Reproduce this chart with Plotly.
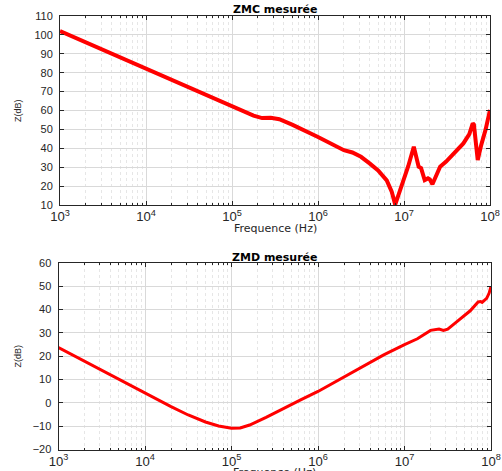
import plotly.graph_objects as go

# ZMC measured (top)
zmc_freq = [1e3, 1e4, 1e5, 1.41e5, 1.78e5, 2.24e5, 2.82e5, 3.55e5, 5.0e5, 1e6,
            1.58e6, 2.0e6, 2.51e6, 3.16e6, 3.98e6, 5.0e6, 6.3e6, 7.2e6, 7.9e6, 8.9e6,
            1e7, 1.12e7, 1.3e7, 1.38e7, 1.48e7, 1.58e7, 1.74e7, 1.9e7, 2.0e7, 2.14e7,
            2.34e7, 2.63e7, 3.09e7, 3.98e7, 4.9e7, 5.75e7, 6.3e7, 6.5e7, 7.2e7, 7.9e7,
            8.9e7, 1e8]
zmc_db = [102, 82.3, 62.5, 59.5, 57.3, 56.0, 56.2, 55.4, 52.5, 46,
          41.5, 39, 37.8, 35.5, 32, 28.3, 23, 17, 10.2, 17,
          24, 30.5, 40.8, 36, 30.3, 29.5, 23.2, 24.1, 23.5, 21,
          25, 30.3, 33, 38, 42.6, 47.5, 53.2, 52.5, 33.8, 41.7,
          50, 60.3]

# ZMD measured (bottom)
zmd_freq = [1e3, 3.16e3, 1e4, 2.0e4, 3.16e4, 5.0e4, 7.1e4, 1e5, 1.26e5, 1.62e5,
            2.51e5, 3.98e5, 6.3e5, 1e6, 2.4e6, 5.75e6, 1e7, 1.41e7, 2.0e7, 2.51e7,
            2.82e7, 3.16e7, 4.07e7, 5.75e7, 7.1e7, 7.6e7, 7.9e7, 8.9e7, 9.5e7, 1e8]
zmd_db = [23.7, 13.9, 4.1, -1.6, -5.2, -8.2, -9.9, -10.9, -10.8, -9.5,
          -6.2, -2.3, 1.3, 4.9, 12.9, 20.6, 25, 27.5, 31.1, 31.7,
          31.1, 31.6, 35, 39.5, 43.3, 43.5, 43.1, 44.8, 47, 50]

titles = ["ZMC mesurée", "ZMD mesurée"]
x_label = "Frequence (Hz)"
y_label = "Z(dB)"

W, H = 502, 471
font = "Liberation Sans, Arial, sans-serif"
wide = "DejaVu Sans, sans-serif"
txt = "#262626"
fig = go.Figure()
fig.add_trace(go.Scatter(x=zmc_freq, y=zmc_db, mode="lines",
                         line=dict(color="#ff0000", width=4), xaxis="x", yaxis="y"))
fig.add_trace(go.Scatter(x=zmd_freq, y=zmd_db, mode="lines",
                         line=dict(color="#ff0000", width=3), xaxis="x2", yaxis="y2"))

xd_top = [60 / W, 490 / W]
xd_bot = [58.5 / W, 491 / W]
top_dom = [1 - 205 / H, 1 - 16 / H]
bot_dom = [1 - 449.5 / H, 1 - 263 / H]

def xaxis(anchor, dom):
    return dict(type="log", range=[3, 8], domain=dom, anchor=anchor, automargin=False,
                dtick=1, exponentformat="power", showexponent="all",
                showgrid=True, gridcolor="#d9d9d9", gridwidth=1,
                showline=True, linecolor=txt, linewidth=1, mirror="ticks",
                ticks="inside", ticklen=4, tickcolor=txt,
                tickfont=dict(family=font, size=10.5, color=txt),
                minor=dict(dtick="D1", showgrid=True, gridcolor="#e6e6e6",
                           griddash="dot", ticks="inside", ticklen=2, tickcolor=txt),
                zeroline=False)

def yaxis(anchor, dom, rng):
    return dict(domain=dom, anchor=anchor, range=rng, dtick=10, automargin=False,
                showgrid=True, gridcolor="#d9d9d9", gridwidth=1,
                showline=True, linecolor=txt, linewidth=1, mirror="ticks",
                ticks="inside", ticklen=4, tickcolor=txt, ticklabelstandoff=4,
                tickfont=dict(family=font, size=11, color=txt),
                zeroline=False)

def ann(text, x_px, y_px, size, fam, color=txt, angle=0):
    return dict(text=text, x=x_px / W, y=1 - y_px / H, xref="paper", yref="paper",
                xanchor="center", yanchor="middle", showarrow=False, textangle=angle,
                font=dict(family=fam, size=size, color=color))

fig.update_layout(
    width=W, height=H, margin=dict(l=0, r=0, t=0, b=0),
    paper_bgcolor="white", plot_bgcolor="white", showlegend=False,
    xaxis=xaxis("y", xd_top), yaxis=yaxis("x", top_dom, [10, 110]),
    xaxis2=xaxis("y2", xd_bot), yaxis2=yaxis("x2", bot_dom, [-20, 60]),
    annotations=[
        ann("<b>%s</b>" % titles[0], 275, 9.5, 11, wide, "black"),
        ann("<b>%s</b>" % titles[1], 274.5, 257.5, 11, wide, "black"),
        ann(x_label, 275, 228.5, 11, wide),
        ann(x_label, 274.5, 472.5, 11, wide),
        ann(y_label, 17.5, 110.5, 9, font, txt, -90),
        ann(y_label, 17.5, 356, 9, font, txt, -90),
    ],
)
fig.write_html("out.html")
